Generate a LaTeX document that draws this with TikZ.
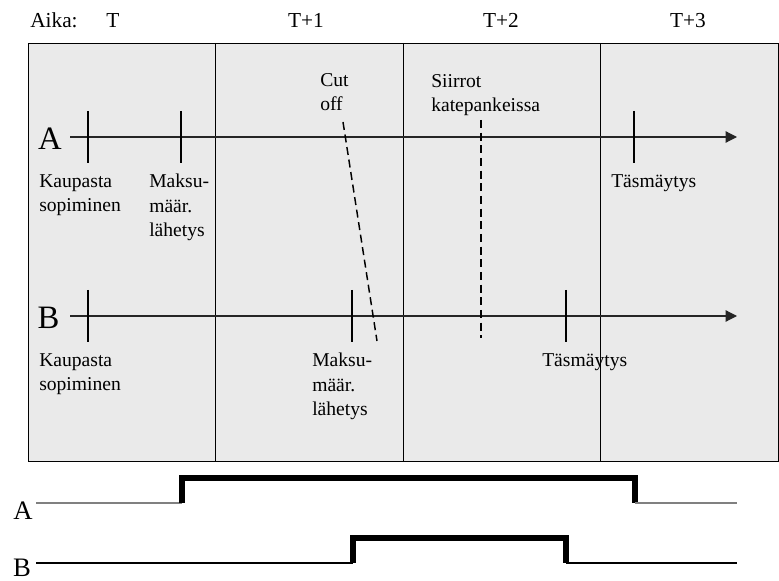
\documentclass[tikz,border=0pt]{standalone}
\usepackage{fontspec}
\setmainfont{Liberation Serif}
\usetikzlibrary{arrows.meta}
\definecolor{boxgray}{HTML}{EAEAEA}
\definecolor{sigray}{HTML}{808080}
\begin{document}
\begin{tikzpicture}[x=0.75pt,y=-0.75pt,
  lbl/.style={font=\fontsize{14.7pt}{18.2pt}\selectfont, inner sep=0pt, anchor=north west, align=left},
  hdr/.style={font=\fontsize{16pt}{18pt}\selectfont, inner sep=0pt, anchor=base},
  big/.style={font=\fontsize{24.5pt}{26pt}\selectfont, inner sep=0pt, anchor=base},
  sig/.style={font=\fontsize{20pt}{22pt}\selectfont, inner sep=0pt, anchor=base},
  tline/.style={line width=0.9pt, draw=black!85, -{Triangle[length=8.5pt,width=8.5pt]}},
  tickmark/.style={line width=0.9pt},
  cutline/.style={line width=1.1pt, dash pattern=on 6pt off 3.5pt},
  divider/.style={line width=0.7pt},
  low/.style={line width=1.5pt, draw=sigray},
  lowb/.style={line width=0.9pt, draw=black},
  high/.style={line width=3.8pt, draw=black, line join=miter},
]
\useasboundingbox (0,0) rectangle (779,581);
% box
\fill[boxgray] (28,43) rectangle (778,461);
\draw[divider] (28,43) rectangle (778,461);
\coordinate (d1t) at (215,43); \coordinate (d1b) at (215,461);
\coordinate (d2t) at (403,43); \coordinate (d2b) at (403,461);
\coordinate (d3t) at (600,43); \coordinate (d3b) at (600,461);
\draw[divider] (d1t) -- (d1b);
\draw[divider] (d2t) -- (d2b);
\draw[divider] (d3t) -- (d3b);

% header
\node[hdr, anchor=base west] (aika) at (30,28) {Aika:};
\node[hdr] (t0) at (113,28) {T};
\node[hdr] (t1) at (306,28) {T+1};
\node[hdr] (t2) at (501,28) {T+2};
\node[hdr] (t3) at (688,28) {T+3};

% timeline A
\node[big] (labA) at (50,150) {A};
\coordinate (As) at (70,137);
\coordinate (Ae) at (737,137);
\draw[tline] (As) -- (Ae);
\coordinate (a1t) at (88,111); \coordinate (a1b) at (88,163);
\coordinate (a2t) at (181,111); \coordinate (a2b) at (181,163);
\coordinate (a3t) at (634,111); \coordinate (a3b) at (634,163);
\draw[tickmark] (a1t) -- (a1b);
\draw[tickmark] (a2t) -- (a2b);
\draw[tickmark] (a3t) -- (a3b);
\node[lbl] (ak) at (39,174) {Kaupasta\\sopiminen};
\node[lbl] (am) at (149,174) {Maksu-\\määr.\\lähetys};
\node[lbl] (at) at (611,174) {Täsmäytys};

% timeline B
\node[big] (labB) at (48.5,329) {B};
\coordinate (Bs) at (70,316);
\coordinate (Be) at (737,316);
\draw[tline] (Bs) -- (Be);
\coordinate (b1t) at (88,290); \coordinate (b1b) at (88,342);
\coordinate (b2t) at (352,290); \coordinate (b2b) at (352,342);
\coordinate (b3t) at (566,290); \coordinate (b3b) at (566,342);
\draw[tickmark] (b1t) -- (b1b);
\draw[tickmark] (b2t) -- (b2b);
\draw[tickmark] (b3t) -- (b3b);
\node[lbl] (bk) at (39,353) {Kaupasta\\sopiminen};
\node[lbl] (bm) at (312,353) {Maksu-\\määr.\\lähetys};
\node[lbl] (bt) at (542,353) {Täsmäytys};

% cut off and transfers
\node[lbl] (cut) at (320,73) {Cut\\off};
\node[lbl] (sii) at (431,74) {Siirrot\\katepankeissa};
\coordinate (c1) at (343,122);
\coordinate (c2) at (377,341);
\draw[cutline] (c1) -- (c2);
\coordinate (s1) at (481,120);
\coordinate (s2) at (481,338);
\draw[cutline] (s1) -- (s2);

% signals
\node[sig] (sA) at (23,519) {A};
\node[sig] (sB) at (22,576) {B};
\coordinate (pa0) at (36,503);
\coordinate (pa1) at (182,503);
\coordinate (pa2) at (635,503);
\coordinate (pa3) at (737,503);
\draw[low] (pa0) -- (pa1);
\draw[high] (pa1) -- (182,478) -- (635,478) -- (pa2);
\draw[low] (pa2) -- (pa3);
\coordinate (pb0) at (36,563);
\coordinate (pb1) at (353,563);
\coordinate (pb2) at (566,563);
\coordinate (pb3) at (737,563);
\draw[lowb] (pb0) -- (pb1);
\draw[high] (pb1) -- (353,538) -- (566,538) -- (pb2);
\draw[lowb] (pb2) -- (pb3);
\end{tikzpicture}
\end{document}
